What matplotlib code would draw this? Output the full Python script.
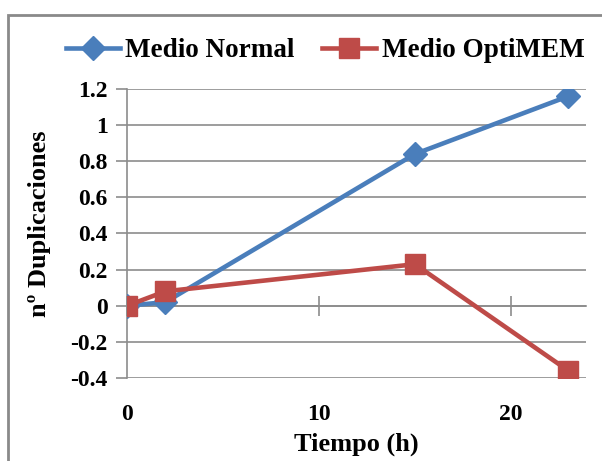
import matplotlib

matplotlib.use("Agg")
import matplotlib.pyplot as plt
from matplotlib.patches import Rectangle

# data
tiempo = [0, 2, 15, 23]
medio_normal = [0.0, 0.02, 0.84, 1.16]
medio_optimem = [0.0, 0.08, 0.23, -0.36]

BLUE = "#4A7EBB"
RED = "#BE4B48"
GRID = "#8C8C8C"

plt.rcParams["font.family"] = ["Liberation Serif", "DejaVu Serif"]
plt.rcParams["font.weight"] = "bold"

fig = plt.figure(figsize=(6.02, 4.61), dpi=100)
ax = fig.add_axes([0.211, 0.180, 0.762, 0.627])

ax.plot(tiempo, medio_normal, color=BLUE, lw=3.3, marker="D", ms=12,
        label="Medio Normal", zorder=3)
ax.plot(tiempo, medio_optimem, color=RED, lw=3.3, marker="s", ms=15,
        label="Medio OptiMEM", zorder=4)

ymin, ymax = -0.4, 1.2
ax.set_xlim(0, 23.9)
ax.set_ylim(ymin, ymax)
ax.set_yticks([-0.4, -0.2, 0, 0.2, 0.4, 0.6, 0.8, 1, 1.2])
ax.set_yticklabels(["-0.4", "-0.2", "0", "0.2", "0.4", "0.6", "0.8", "1", "1.2"])
ax.set_xticks([0, 10, 20])
ax.grid(axis="y", color=GRID, lw=1.2)
ax.set_axisbelow(True)

for s in ("top", "right", "bottom"):
    ax.spines[s].set_visible(False)
ax.spines["left"].set_color(GRID)
ax.spines["left"].set_linewidth(1.2)
ax.tick_params(axis="y", direction="out", length=8, color=GRID, width=1.2,
               labelsize=17, pad=6)
ax.tick_params(axis="x", length=0, labelsize=17, pad=19)

# horizontal axis crossing at zero, tick marks only
sec = ax.secondary_xaxis((0 - ymin) / (ymax - ymin))
sec.set_xticks([0, 10, 20])
sec.set_xticklabels([])
sec.tick_params(direction="inout", length=14, color=GRID, width=1.2)
sec.spines["bottom"].set_color(GRID)
sec.spines["bottom"].set_linewidth(1.2)

ax.set_xlabel("Tiempo (h)", fontsize=19, fontweight="bold", labelpad=5)
ax.set_ylabel("nº Duplicaciones", fontsize=19, fontweight="bold", labelpad=14)
ax.yaxis.set_label_coords(-0.165, 0.535)

fig.legend(loc="center", bbox_to_anchor=(0.54, 0.89), ncol=2, frameon=False,
           handlelength=2.0, columnspacing=1.0, handletextpad=0.2,
           prop={"weight": "bold", "size": 19.5})

fig.patches.append(Rectangle((8 / 602, -0.1), 1.2, 1 - 15 / 461 + 0.1,
                             transform=fig.transFigure, fill=False,
                             edgecolor="#8A8A8A", lw=2, zorder=0))

fig.savefig("out.png", dpi=100)
